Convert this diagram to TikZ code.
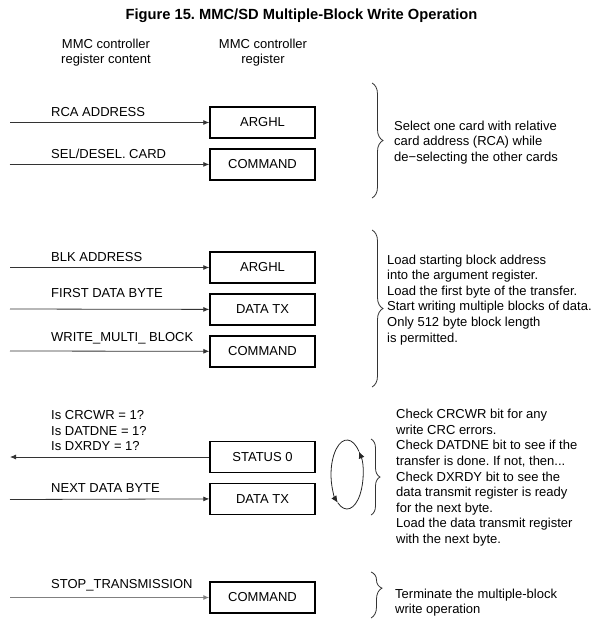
\documentclass[tikz,border=0pt]{standalone}
\usepackage{fontspec}
\setmainfont{Liberation Sans}
\usetikzlibrary{arrows.meta,positioning,decorations.pathreplacing}
\frenchspacing

\begin{document}
\begin{tikzpicture}[
  x=1pt, y=-1pt,
  font=\fontsize{13}{15.6}\selectfont,
  node distance=9.5pt,
  reg/.style={draw=black, line width=1.4pt, minimum width=105pt, minimum height=31pt, inner sep=0pt},
  lbl/.style={anchor=base west, inner sep=0pt},
  note/.style={anchor=north west, align=left, inner sep=0pt},
  head/.style={anchor=north, align=center, inner sep=0pt},
  arr/.style={-{Latex[length=6pt,width=5pt]}, black!80, line width=0.8pt},
  stoparr/.style={-{Latex[length=6pt,width=5pt]}, black!50, line width=1.6pt},
  brc/.style={decorate, decoration={brace, amplitude=11pt}, black!80, line width=0.8pt},
  cyc/.style={-{Latex[length=7pt,width=6pt]}, black!85, line width=0.8pt}
]
\useasboundingbox (0,0) rectangle (598,622);

% title and column heads
\node[anchor=base, inner sep=0pt, font=\fontsize{14.7}{17}\selectfont\bfseries] (title) at (301.5,19) {Figure 15. MMC/SD Multiple-Block Write Operation};
\node[head] (hcont) at (106,38.5) {MMC controller\\register content};
\node[head] (hreg) at (263,38.5) {MMC controller\\register};

% select card
\node[reg] (arg1) at (262.5,122.5) {ARGHL};
\node[reg, below=of arg1] (cmd1) {COMMAND};
\coordinate (s1) at (10,122.5);
\coordinate (s2) at (10,164.5);
\draw[arr] (s1) -- (arg1.west);
\draw[arr] (s2) -- (cmd1.west);
\node[lbl] (l1) at (51,116) {RCA ADDRESS};
\node[lbl] (l2) at (51,158) {SEL/DESEL. CARD};
\coordinate (b1t) at (372,83);
\coordinate (b1b) at (372,198);
\draw[brc] (b1t) -- (b1b);
\node[note] (n1) at (394,120.5) {Select one card with relative\\card address (RCA) while\\de−selecting the other cards};

% start multiple-block write
\node[reg] (arg2) at (262.5,267.5) {ARGHL};
\node[reg, below=of arg2] (dtx2) {DATA TX};
\node[reg, below=of dtx2] (cmd2) {COMMAND};
\coordinate (s3) at (10,267.5);
\coordinate (s4) at (10,309);
\coordinate (s5) at (10,351);
\draw[arr] (s3) -- (arg2.west);
\draw[arr] (s4) -- (dtx2.west);
\draw[arr] (s5) -- (cmd2.west);
\node[lbl] (l3) at (51,261) {BLK ADDRESS};
\node[lbl] (l4) at (51,297) {FIRST DATA BYTE};
\node[lbl] (l5) at (51,341) {WRITE\_MULTI\_ BLOCK};
\coordinate (b2t) at (372,230);
\coordinate (b2b) at (372,387);
\draw[brc] (b2t) -- (b2b);
\node[note] (n2) at (387,254.5) {Load starting block address\\into the argument register.\\Load the first byte of the transfer.\\Start writing multiple blocks of data.\\Only 512 byte block length\\is permitted.};

% polling loop
\node[reg] (st3) at (262.5,457) {STATUS 0};
\node[reg, below=of st3] (dtx3) {DATA TX};
\coordinate (o6) at (10,457);
\coordinate (s7) at (10,499.5);
\draw[arr] (st3.west) -- (o6);
\draw[arr] (s7) -- (dtx3.west);
\node[note] (l6) at (51,410.5) {Is CRCWR = 1?\\Is DATDNE = 1?\\Is DXRDY = 1?};
\node[lbl] (l7) at (51,492) {NEXT DATA BYTE};
\coordinate (loop) at (347,474.5);
\draw[cyc] (loop) ++(-125:16pt and 34.5pt) arc[start angle=-125, end angle=42, x radius=16pt, y radius=34.5pt];
\draw[cyc] (loop) ++(42:16pt and 34.5pt) arc[start angle=42, end angle=235, x radius=16pt, y radius=34.5pt];
\coordinate (b3t) at (371,439);
\coordinate (b3b) at (371,515);
\draw[brc, decoration={brace, amplitude=9pt}] (b3t) -- (b3b);
\node[note] (n3) at (396,409) {Check CRCWR bit for any\\write CRC errors.\\Check DATDNE bit to see if the\\transfer is done. If not, then...\\Check DXRDY bit to see the\\data transmit register is ready\\for the next byte.\\Load the data transmit register\\with the next byte.};

% stop
\node[reg] (cmd4) at (262.5,597.5) {COMMAND};
\coordinate (s8) at (10,597.5);
\draw[stoparr] (s8) -- (cmd4.west);
\node[lbl] (l8) at (51,588) {STOP\_TRANSMISSION};
\coordinate (b4t) at (371,572);
\coordinate (b4b) at (371,618);
\draw[brc, decoration={brace, amplitude=11pt, aspect=0.35}] (b4t) -- (b4b);
\node[note] (n4) at (395,588.5) {Terminate the multiple-block\\write operation};
\end{tikzpicture}
\end{document}
